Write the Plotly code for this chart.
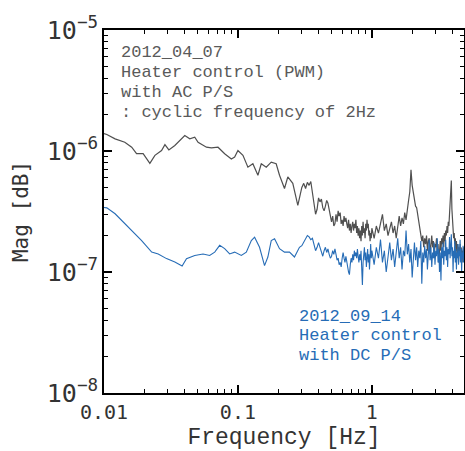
import plotly.graph_objects as go

# ---------------- data (magnitudes in units of 1e-7) ----------------
MAG_UNIT = 1e-7

# low-frequency part, gray (2012_04_07, AC P/S)
GRAY_LOW_F = [0.0100, 0.0105, 0.0121, 0.0143, 0.0161, 0.0175, 0.0196, 0.0220, 0.0240, 0.0269,
              0.0285, 0.0305, 0.0338, 0.0401, 0.0437, 0.0476, 0.0504, 0.0582, 0.0634, 0.0710,
              0.0796, 0.0893, 0.0945, 0.1000, 0.109, 0.1187, 0.1293, 0.141, 0.1494, 0.1627,
              0.1773, 0.193, 0.2044, 0.2227, 0.2357, 0.2568, 0.280]
GRAY_LOW_U = [13.9, 13.7, 12.6, 11.8, 10.75, 9.5, 9.5, 7.9, 9.2, 10.1,
              11.3, 10.2, 11.1, 13.4, 12.6, 13.0, 11.8, 10.75, 10.6, 10.75,
              9.5, 8.6, 8.9, 10.1, 9.2, 7.35, 7.85, 6.3, 7.85, 7.35,
              8.1, 7.85, 6.3, 4.9, 6.1, 5.4, 3.55]

# low-frequency part, blue (2012_09_14, DC P/S)
BLUE_LOW_F = [0.0100, 0.0105, 0.0121, 0.0152, 0.0191, 0.0227, 0.0254, 0.0293, 0.0338, 0.0383,
              0.0413, 0.0476, 0.0549, 0.0615, 0.0671, 0.0731, 0.0796, 0.0867, 0.0945, 0.106,
              0.1155, 0.1259, 0.1332, 0.145, 0.158, 0.1673, 0.1773, 0.1877, 0.2044, 0.2227,
              0.2427, 0.2644, 0.288]
BLUE_LOW_U = [3.41, 3.39, 3.03, 2.35, 1.82, 1.46, 1.41, 1.29, 1.21, 1.12,
              1.29, 1.37, 1.41, 1.37, 1.46, 1.66, 1.56, 1.41, 1.46, 1.37,
              1.46, 1.82, 1.94, 1.60, 1.13, 1.33, 1.82, 1.88, 1.56, 1.46,
              1.46, 1.33, 1.60]

# high-frequency part (shared frequency bins)
HIGH_F = [0.30, 0.31, 0.32, 0.33, 0.34, 0.35, 0.36, 0.37, 0.38, 0.39,
          0.40, 0.41, 0.42, 0.43, 0.44, 0.45, 0.46, 0.47, 0.48, 0.49,
          0.50, 0.51, 0.52, 0.53, 0.54, 0.55, 0.56, 0.57, 0.58, 0.59,
          0.60, 0.61, 0.62, 0.63, 0.64, 0.65, 0.66, 0.67, 0.68, 0.69,
          0.70, 0.71, 0.72, 0.73, 0.74, 0.75, 0.76, 0.77, 0.78, 0.79,
          0.80, 0.81, 0.82, 0.83, 0.84, 0.85, 0.86, 0.87, 0.88, 0.89,
          0.90, 0.91, 0.92, 0.93, 0.94, 0.95, 0.96, 0.97, 0.98, 0.99,
          1.00,
          1.04, 1.08, 1.12, 1.16, 1.20, 1.24, 1.28, 1.32, 1.36, 1.40,
          1.44, 1.48, 1.52, 1.56, 1.60, 1.64, 1.68, 1.72, 1.76, 1.80,
          1.84, 1.88, 1.92, 1.96, 2.00, 2.04, 2.08, 2.12, 2.16, 2.20,
          2.24, 2.28, 2.32, 2.36, 2.40, 2.44, 2.48, 2.52, 2.56, 2.60,
          2.64, 2.68, 2.72, 2.76, 2.80, 2.84, 2.88, 2.92, 2.96, 3.00,
          3.04, 3.08, 3.12, 3.16, 3.20, 3.24, 3.28, 3.32, 3.36, 3.40,
          3.44, 3.48, 3.52, 3.56, 3.60, 3.64, 3.68, 3.72, 3.76, 3.80,
          3.84, 3.88, 3.92, 3.96, 4.00, 4.04, 4.08, 4.12, 4.16, 4.20,
          4.24, 4.28, 4.32, 4.36, 4.40, 4.44, 4.48, 4.52, 4.56, 4.60,
          4.64, 4.68, 4.72, 4.76, 4.80, 4.84, 4.88]

GRAY_HIGH_U = [5.0, 5.4, 4.9, 5.5, 5.2, 5.6, 4.4, 3.8, 3.0, 3.3,
               4.1, 3.8, 4.0, 3.4, 3.2, 3.5, 3.9, 3.7, 3.3, 2.8,
               2.6, 2.9, 2.4, 2.5, 3.0, 2.6, 3.2, 2.9, 3.1, 2.5,
               2.7, 2.4, 2.9, 2.6, 2.8, 2.5, 2.3, 2.7, 2.2, 2.5,
               2.1, 2.4, 2.6, 2.2, 2.5, 2.3, 2.7, 2.1, 2.4, 2.0,
               2.3, 1.9, 2.2, 1.8, 2.4, 2.0, 2.6, 2.1, 2.3, 1.9,
               2.5, 2.2, 2.7, 2.3, 2.5, 2.0, 2.2, 1.8, 2.1, 1.9,
               2.3,
               1.9, 2.4, 2.1, 2.6, 3.0, 2.2, 2.5, 2.0, 2.3, 2.6,
               2.1, 2.4, 1.9, 2.5, 2.9, 2.4, 2.8, 2.5, 3.1, 2.7,
               3.5, 3.9, 4.6, 7.0, 5.2, 4.6, 4.0, 3.5, 3.4, 3.0,
               2.6, 2.3, 2.0, 1.8, 2.0, 1.6, 1.9, 1.7, 2.0, 1.5,
               1.8, 1.9, 1.4, 1.7, 2.0, 1.6, 1.8, 1.3, 1.7, 1.6,
               1.9, 1.5, 1.7, 1.2, 1.6, 1.8, 1.5, 1.9, 1.7, 2.0,
               1.6, 2.1, 1.8, 2.2, 2.0, 2.4, 2.1, 2.6, 2.4, 2.9,
               3.2, 4.2, 5.7, 3.3, 2.6, 2.2, 1.9, 2.1, 1.7, 1.9,
               1.5, 1.8, 1.4, 1.7, 1.6, 1.2, 1.6, 1.4, 1.7, 1.3,
               1.6, 1.5, 1.2, 1.5, 1.4, 1.6, 1.4]

BLUE_HIGH_U = [1.65, 1.75, 1.9, 2.0, 1.95, 1.85, 1.9, 1.7, 1.5, 1.6,
               1.75, 1.6, 1.45, 1.35, 1.5, 1.6, 1.45, 1.55, 1.4, 1.3,
               1.35, 1.5, 1.4, 1.55, 1.4, 1.25, 1.3, 1.15, 1.2, 1.1,
               1.3, 1.45, 1.3, 1.2, 1.35, 1.25, 1.1, 1.0, 0.95, 1.15,
               1.3, 1.2, 1.4, 1.25, 1.5, 1.35, 1.45, 1.3, 1.55, 1.35,
               1.2, 1.4, 1.25, 1.5, 1.1, 0.78, 1.2, 1.35, 1.6, 1.25,
               1.45, 1.1, 1.3, 1.55, 1.2, 1.4, 1.05, 1.35, 1.7, 1.3,
               1.5,
               1.15, 1.6, 1.3, 1.85, 1.2, 1.5, 1.0, 1.4, 1.75, 1.25,
               1.55, 1.1, 1.45, 1.9, 1.3, 1.6, 1.05, 1.5, 1.35, 2.2,
               1.4, 1.7, 1.2, 1.55, 0.9, 1.4, 1.75, 1.25, 1.6, 1.1,
               1.5, 1.3, 1.8, 0.8, 1.45, 1.2, 1.65, 1.3, 1.55, 1.05,
               1.5, 1.85, 1.25, 1.6, 1.1, 1.45, 1.3, 1.75, 1.15, 1.5,
               1.35, 1.9, 1.2, 1.55, 1.0, 1.45, 0.85, 1.6, 1.3, 1.75,
               1.15, 1.5, 1.35, 1.85, 1.25, 1.6, 1.1, 1.55, 1.4, 1.95,
               1.3, 1.65, 2.05, 1.35, 1.6, 1.0, 1.5, 1.3, 1.8, 1.2,
               1.55, 1.05, 1.45, 1.3, 1.7, 1.15, 1.5, 1.35, 1.85, 1.2,
               1.55, 1.0, 1.45, 1.3, 1.65, 1.2, 1.45]

assert len(GRAY_LOW_F) == len(GRAY_LOW_U)
assert len(BLUE_LOW_F) == len(BLUE_LOW_U)
assert len(HIGH_F) == len(GRAY_HIGH_U) == len(BLUE_HIGH_U)

GRAY_TEXT = ["2012_04_07", "Heater control (PWM)", "with AC P/S", ": cyclic frequency of 2Hz"]
BLUE_TEXT = ["2012_09_14", "Heater control", "with DC P/S"]

X_TITLE = "Frequency [Hz]"
Y_TITLE = "Mag [dB]"

GRAY = "rgb(80,80,80)"
BLUE = "rgb(38,108,182)"
MONO = "Liberation Mono, Courier New, monospace"
SANSMONO = "DejaVu Sans Mono, monospace"
INK = "#333333"

# ---------------- figure ----------------
gray_f = GRAY_LOW_F + HIGH_F
gray_v = [u * MAG_UNIT for u in GRAY_LOW_U + GRAY_HIGH_U]
blue_f = BLUE_LOW_F + HIGH_F
blue_v = [u * MAG_UNIT for u in BLUE_LOW_U + BLUE_HIGH_U]

fig = go.Figure()
fig.add_trace(go.Scatter(x=gray_f, y=gray_v, mode="lines",
                         line=dict(color=GRAY, width=1.2), name="2012_04_07"))
fig.add_trace(go.Scatter(x=blue_f, y=blue_v, mode="lines",
                         line=dict(color=BLUE, width=1.1), name="2012_09_14"))

axis_common = dict(
    type="log", tickmode="linear", tick0=0, dtick=1,
    ticks="inside", ticklen=8, tickwidth=1.5, tickcolor="black",
    showline=True, linewidth=2, linecolor="black", mirror="ticks",
    showgrid=False, zeroline=False,
    minor=dict(ticks="inside", ticklen=4, tickwidth=1, tickcolor="black", showgrid=False),
    tickfont=dict(family=SANSMONO, size=20, color=INK),
)

fig.update_xaxes(range=[-2, 0.688], **axis_common,
                 title=dict(text=X_TITLE, font=dict(family=MONO, size=23, color=INK), standoff=15))
fig.update_yaxes(range=[-8, -5], exponentformat="power", showexponent="all", **axis_common,
                 title=dict(text=Y_TITLE, font=dict(family=SANSMONO, size=21, color=INK), standoff=12))

# text blocks: one annotation per line, line pitch ~20 px
PLOT_H = 451 - 30 - 58
gray_centers_px = [52.5, 72.5, 92.5, 112.5]
for txt, py in zip(GRAY_TEXT, gray_centers_px):
    fig.add_annotation(x=0.041, y=(451 - 58 - py) / PLOT_H, xref="paper", yref="paper",
                       text=txt, showarrow=False, xanchor="left", yanchor="middle",
                       font=dict(family=MONO, size=17, color="rgb(90,90,90)"))
blue_centers_px = [316, 335.5, 355]
for txt, py in zip(BLUE_TEXT, blue_centers_px):
    fig.add_annotation(x=0.535, y=(451 - 58 - py) / PLOT_H, xref="paper", yref="paper",
                       text=txt, showarrow=False, xanchor="left", yanchor="middle",
                       font=dict(family=MONO, size=17, color=BLUE))

fig.update_layout(width=465, height=451,
                  margin=dict(l=104, r=1, t=30, b=58, autoexpand=False),
                  plot_bgcolor="white", paper_bgcolor="white", showlegend=False)

fig.write_html("out.html")
